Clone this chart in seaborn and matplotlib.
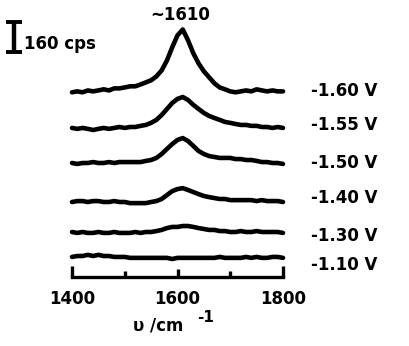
import numpy as np
import pandas as pd
import matplotlib
matplotlib.use("Agg")
import matplotlib.pyplot as plt
import seaborn as sns

# ---------------- data ----------------
wavenumber = list(range(1400, 1801, 10))  # cm^-1

potentials = ["-1.60 V", "-1.55 V", "-1.50 V", "-1.40 V", "-1.30 V", "-1.10 V"]

# vertical offsets of each trace (cps)
offsets = [990, 795, 608, 405, 240, 107]

# intensities relative to each offset (cps)
i_160 = [-5, 0, -5, 5, 0, 5, 11, 5, 16, 16, 21, 27, 27, 37, 48, 59, 80, 112, 165, 235,
         299, 330, 272, 203, 149, 107, 75, 43, 21, 11, 0, -5, 0, 5, 0, 11, 5, 0, 5, 0, 0]
i_155 = [0, -5, 0, -5, -11, -5, 0, -5, 0, 5, 0, 5, 5, 11, 16, 27, 43, 69, 101, 133,
         155, 165, 149, 123, 101, 80, 64, 53, 43, 32, 27, 21, 16, 16, 11, 11, 5, 5, 0, 5, 0]
i_150 = [0, -5, 0, 0, 5, 0, 0, 5, 0, 5, 5, 5, 5, 5, 11, 16, 27, 48, 75, 101,
         123, 133, 117, 91, 64, 48, 37, 32, 27, 27, 27, 21, 21, 16, 16, 11, 5, 5, 0, 0, -5]
i_140 = [-5, 0, 0, -5, 0, 0, -5, -5, 0, -5, -5, -11, -11, -11, -11, -5, 0, 11, 32, 53,
         64, 69, 59, 48, 37, 27, 21, 16, 11, 11, 5, 5, 5, 5, 5, 0, 5, 0, 0, 0, -5]
i_130 = [0, -5, 0, -5, -5, 0, -5, -5, 0, -5, -5, -5, 0, -5, 0, 0, 5, 11, 21, 27,
         27, 32, 32, 27, 21, 16, 11, 11, 5, 5, 0, 0, 5, 0, 0, 5, 0, 0, 0, 0, -5]
i_110 = [0, 5, 5, 11, 5, 11, 5, 5, 0, 0, 0, -5, -5, -5, -5, -5, -5, -5, -5, -11,
         -5, -5, -5, -5, -5, -5, -5, -5, 0, -5, -5, -5, -5, 0, -5, 0, -5, -5, 0, 0, -5]
intensities = [i_160, i_155, i_150, i_140, i_130, i_110]

xticks_major = [1400, 1600, 1800]
xticks_minor = [1500, 1700]
peak_label = "~1610"
peak_pos = 1610
scale_cps = 160

# ---------------- figure ----------------
sns.set_style("white")
plt.rcParams["font.family"] = ["DejaVu Sans"]
plt.rcParams["font.weight"] = "bold"
plt.rcParams["text.color"] = "black"
plt.rcParams["axes.labelcolor"] = "black"
plt.rcParams["xtick.color"] = "black"

W, H, DPI = 409, 346, 100
fig = plt.figure(figsize=(W / DPI, H / DPI), dpi=DPI)
fig.patch.set_facecolor("white")

# axes: x 1400 at px 72, 1800 at px 283 ; bottom spine at px 277, top at px 0
ax = fig.add_axes([72 / W, (H - 277) / H, (283 - 72) / W, 277 / H])
ax.set_facecolor("none")
cps_per_px = scale_cps / 30.0
px_per_wn = (283 - 72) / 400.0

rows = []
for pot, off, vals in zip(potentials, offsets, intensities):
    for x, v in zip(wavenumber, vals):
        rows.append({"wavenumber": x, "signal": off + v, "potential": pot})
df = pd.DataFrame(rows)

for pot in potentials:
    sub = df[df["potential"] == pot]
    sns.lineplot(data=sub, x="wavenumber", y="signal", ax=ax, color="black",
                 linewidth=3.3, solid_capstyle="round", solid_joinstyle="round",
                 clip_on=False, legend=False)

ax.set_xlim(1400, 1800)
ax.set_ylim(0, 277 * cps_per_px)
ax.set_xlabel("")
ax.set_ylabel("")

for s in ["top", "right", "left"]:
    ax.spines[s].set_visible(False)
ax.spines["bottom"].set_linewidth(2.4)
ax.spines["bottom"].set_color("black")
ax.spines["bottom"].set_capstyle("projecting")

ax.set_yticks([])
ax.set_xticks(xticks_major)
ax.set_xticks(xticks_minor, minor=True)
ax.set_xticklabels([str(t) for t in xticks_major], fontsize=12, fontweight="bold",
                   color="black")
ax.tick_params(axis="x", which="major", direction="in", length=6, width=2.4, pad=9,
               bottom=True, top=False, colors="black")
ax.tick_params(axis="x", which="minor", direction="in", length=4, width=2.4,
               bottom=True, top=False, colors="black")
majors = ax.xaxis.get_major_ticks()
for idx in (0, len(majors) - 1):
    majors[idx].tick1line.set_markersize(8)

# x-axis label with separated superscript
ax.text(1400 + (158 - 72) / px_per_wn, -(326 - 277) * cps_per_px, "υ /cm",
        fontsize=12, fontweight="bold", ha="center", va="center", clip_on=False)
ax.text(1400 + (206 - 72) / px_per_wn, -(318 - 277) * cps_per_px, "-1",
        fontsize=11, fontweight="bold", ha="center", va="center", clip_on=False)

# potential labels on the right
label_px = [91, 125, 163, 198, 236, 265]
for pot, ypx in zip(potentials, label_px):
    ax.text(1400 + (311 - 72) / px_per_wn, (277 - ypx) * cps_per_px, pot,
            fontsize=12, fontweight="bold", ha="left", va="center", clip_on=False)

# peak label
ax.text(peak_pos - 4, (277 - 15) * cps_per_px, peak_label, fontsize=12,
        fontweight="bold", ha="center", va="center", clip_on=False)

# intensity scale bar
bar_x = 1400 + (14 - 72) / px_per_wn
bar_y0 = (277 - 52) * cps_per_px
ax.errorbar([bar_x], [bar_y0 + scale_cps / 2], yerr=[scale_cps / 2], fmt="none",
            ecolor="black", elinewidth=3.2, capsize=5.5, capthick=2.8, clip_on=False)
ax.text(1400 + (24 - 72) / px_per_wn, (277 - 44) * cps_per_px, f"{scale_cps} cps",
        fontsize=12, fontweight="bold", ha="left", va="center", clip_on=False)

fig.savefig("out.png", dpi=DPI, facecolor="white")
